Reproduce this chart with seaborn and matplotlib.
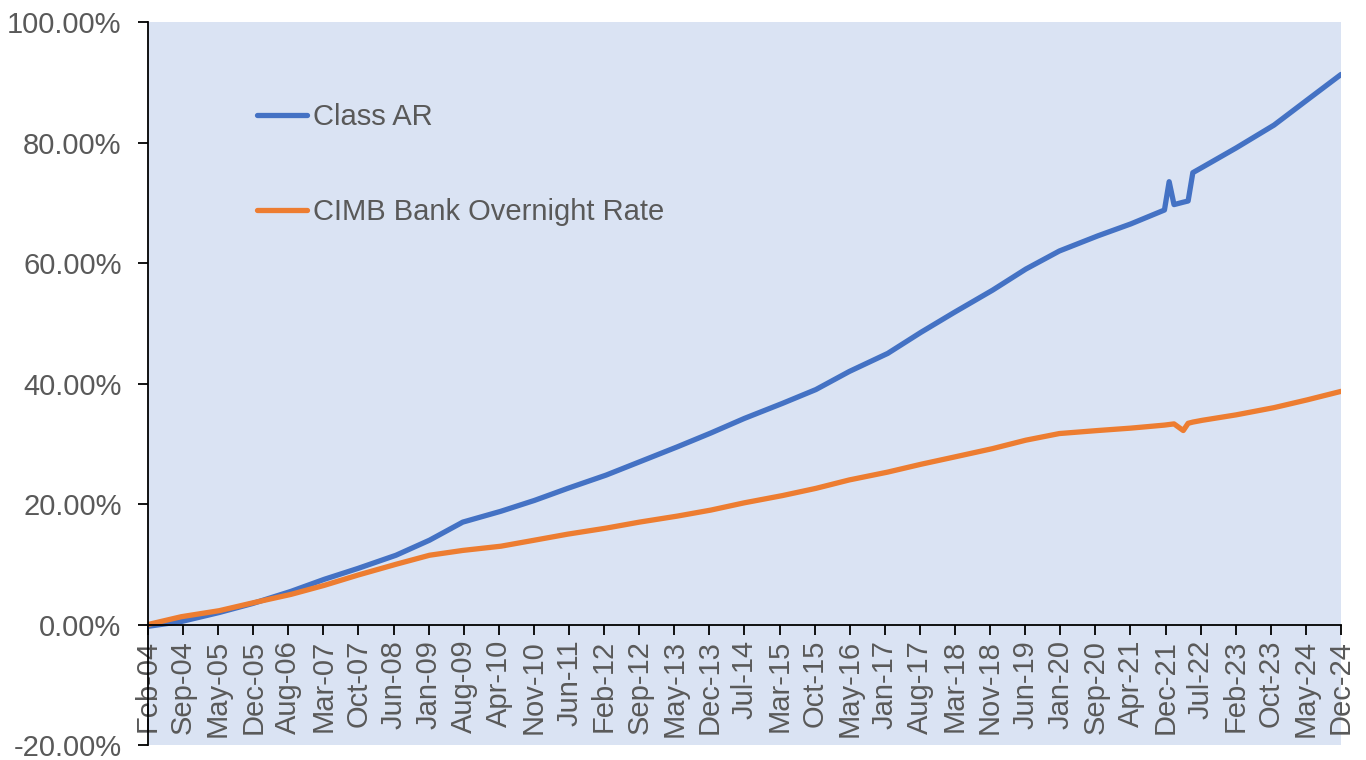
import numpy as np
import pandas as pd
import seaborn as sns
import matplotlib
matplotlib.use("Agg")
import matplotlib.pyplot as plt
import matplotlib.dates as mdates
from matplotlib.ticker import PercentFormatter

sns.set_style("white")
plt.rcParams['font.family'] = ['Liberation Sans', 'DejaVu Sans']
plt.rcParams['axes.unicode_minus'] = False
#--------------------------------------------------------------------------------------------------
# values (cumulative return, %)
dates = ["2004-02", "2004-09", "2005-05", "2005-12", "2006-08", "2007-03", "2007-10", "2008-06",
         "2009-01", "2009-08", "2010-04", "2010-11", "2011-06", "2012-02", "2012-09", "2013-05",
         "2013-12", "2014-07", "2015-03", "2015-10", "2016-05", "2017-01", "2017-08", "2018-03",
         "2018-11", "2019-06", "2020-01", "2020-09", "2021-04", "2021-11", "2021-12", "2022-01",
         "2022-03", "2022-04", "2022-05", "2022-07", "2023-02", "2023-10", "2024-05", "2024-12"]

class_ar = [-0.3, 0.5, 2.0, 3.5, 5.5, 7.5, 9.3, 11.5, 14.0, 17.0, 18.8, 20.6, 22.6, 24.8, 27.0, 29.5,
            31.8, 34.2, 36.7, 39.0, 42.0, 45.0, 48.5, 51.8, 55.5, 59.0, 62.0, 64.5, 66.5, 68.8, 73.5, 69.7,
            70.1, 70.3, 75.0, 75.9, 79.1, 82.9, 87.1, 91.3]

cimb_overnight = [0.0, 1.3, 2.3, 3.6, 5.0, 6.5, 8.2, 10.0, 11.5, 12.3, 13.0, 14.0, 15.0, 16.0, 17.0, 18.0,
                  19.0, 20.2, 21.4, 22.6, 24.0, 25.3, 26.6, 27.8, 29.2, 30.6, 31.7, 32.2, 32.6, 33.1, 33.2, 33.3,
                  32.2, 33.4, 33.6, 33.9, 34.8, 36.0, 37.3, 38.7]

tick_labels = ["Feb-04", "Sep-04", "May-05", "Dec-05", "Aug-06", "Mar-07", "Oct-07", "Jun-08", "Jan-09",
               "Aug-09", "Apr-10", "Nov-10", "Jun-11", "Feb-12", "Sep-12", "May-13", "Dec-13", "Jul-14",
               "Mar-15", "Oct-15", "May-16", "Jan-17", "Aug-17", "Mar-18", "Nov-18", "Jun-19", "Jan-20",
               "Sep-20", "Apr-21", "Dec-21", "Jul-22", "Feb-23", "Oct-23", "May-24", "Dec-24"]

series_names = ["Class AR", "CIMB Bank Overnight Rate"]
colors = ["#4472C4", "#ED7D31"]

#--------------------------------------------------------------------------------------------------
def main():
	d = pd.to_datetime(dates)
	df = pd.DataFrame({"date": list(d) * 2,
	                   "value": class_ar + cimb_overnight,
	                   "series": [series_names[0]] * len(d) + [series_names[1]] * len(d)})

	fig = plt.figure(figsize=(13.66, 7.6), dpi=100)
	ax = fig.add_axes([0.1083, 0.0197, 0.8734, 0.9513])
	ax.set_facecolor("#DAE3F3")

	sns.lineplot(data=df, x="date", y="value", hue="series", palette=colors,
	             linewidth=3.8, ax=ax, legend=True)

	ax.set_ylim(-20, 100)
	ax.set_yticks(np.arange(-20, 101, 20))
	ax.yaxis.set_major_formatter(PercentFormatter(xmax=100, decimals=2))

	x0 = mdates.date2num(d[0])
	x1 = mdates.date2num(d[-1])
	ax.set_xlim(x0, x1)
	ax.set_xticks(np.linspace(x0, x1, len(tick_labels)))
	ax.set_xticklabels(tick_labels)

	ax.set_xlabel("")
	ax.set_ylabel("")
	for s in ["top", "right"]:
		ax.spines[s].set_visible(False)
	ax.spines["bottom"].set_position(("data", 0))
	ax.spines["left"].set_color("black")
	ax.spines["bottom"].set_color("black")
	ax.spines["left"].set_linewidth(1.3)
	ax.spines["bottom"].set_linewidth(1.3)
	ax.tick_params(axis="both", which="major", labelsize=21, labelcolor="#595959",
	               direction="out", length=7, width=1.3, color="black", left=True, bottom=True)
	ax.tick_params(axis="x", pad=4, labelrotation=90)
	ax.tick_params(axis="y", pad=12)

	leg = ax.legend(loc="upper left", bbox_to_anchor=(0.069, 0.9245), frameon=False,
	                fontsize=21, handlelength=1.74, handletextpad=0.2, labelspacing=2.3)
	for t in leg.get_texts():
		t.set_color("#595959")
	for h in leg.get_lines():
		h.set_linewidth(3.8)

	fig.savefig("out.png", dpi=100)


#-------------------------------------------------------------------------------------------
if __name__ == "__main__":
	main()
